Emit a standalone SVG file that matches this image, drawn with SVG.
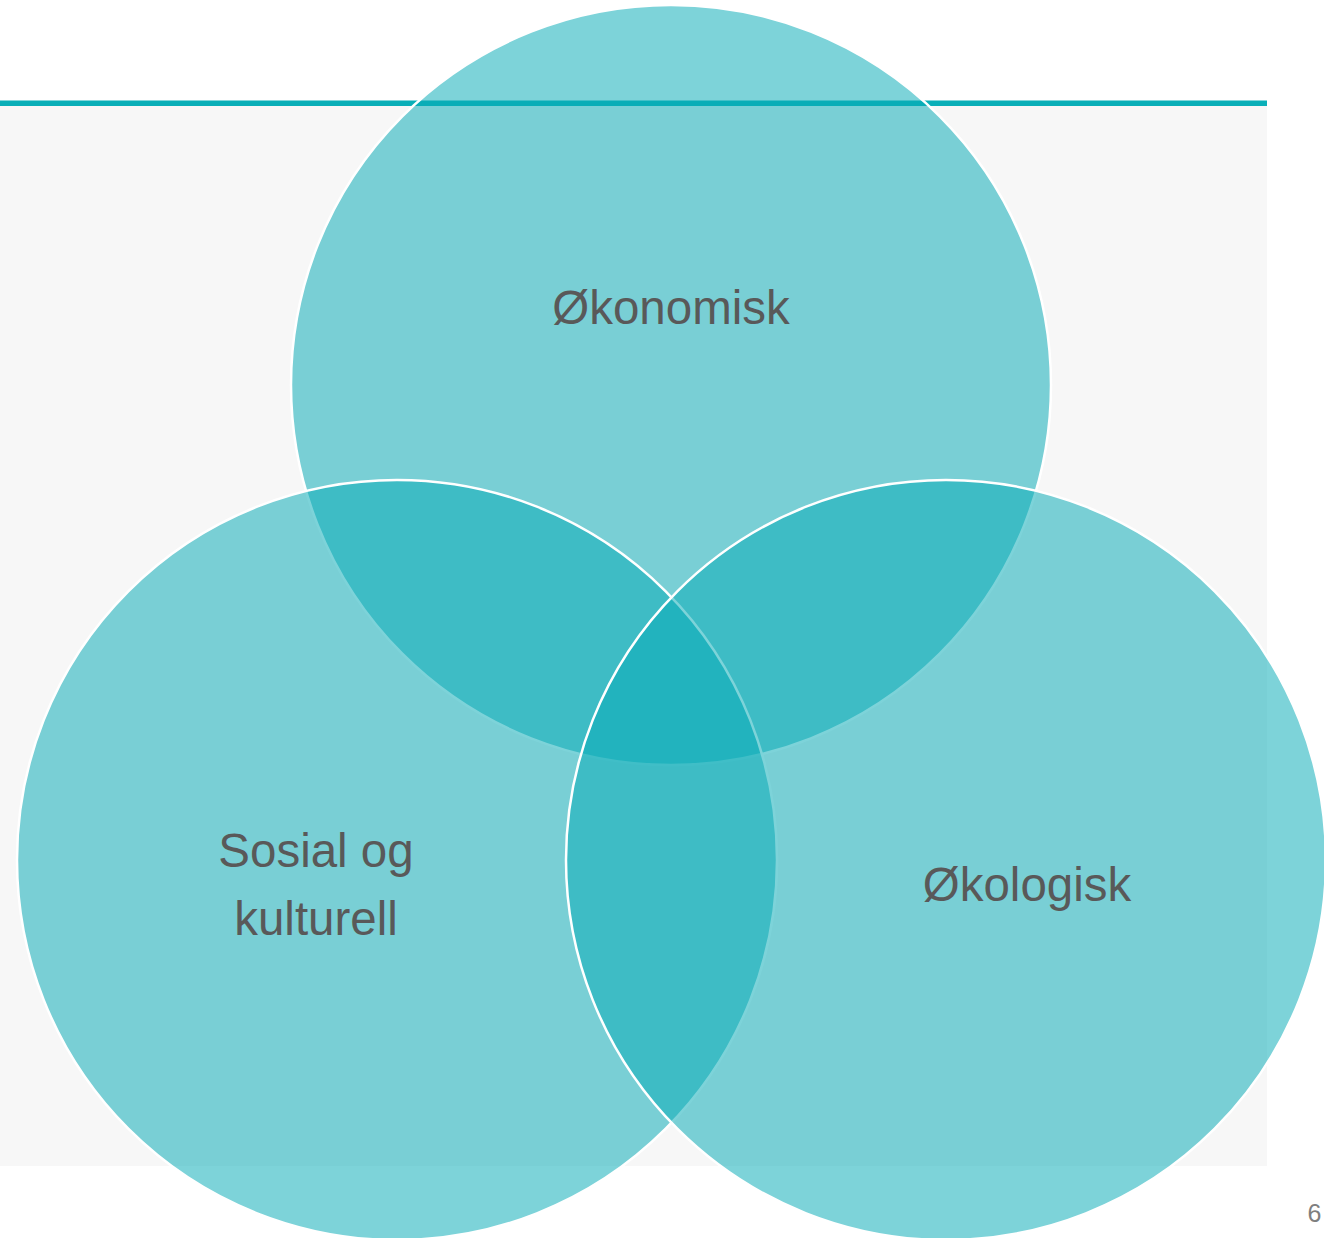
<svg xmlns="http://www.w3.org/2000/svg" width="1324" height="1238" viewBox="0 0 1324 1238">
<style>
.c{fill:rgb(10,172,183);fill-opacity:0.53;stroke:#ffffff;stroke-width:2.5}
.t{font-family:"Liberation Sans",Arial,sans-serif;font-size:47.5px;fill:#595959;text-anchor:middle}
</style>
<rect x="0" y="0" width="1324" height="1238" fill="#ffffff"/>
<rect x="0" y="103" width="1267" height="1063" fill="#f7f7f7"/>
<rect x="0" y="100.5" width="1267" height="5.5" fill="#0aafb8"/>
<g id="connectors"></g>
<g id="okonomisk">
<circle class="c" cx="671" cy="385" r="380"/>
</g>
<g id="sosial">
<circle class="c" cx="397" cy="860" r="380"/>
</g>
<g id="okologisk">
<circle class="c" cx="946" cy="860" r="380"/>
</g>
<g id="labels">
<text class="t" x="671" y="324">Økonomisk</text>
<text class="t" x="316" y="867">Sosial og</text>
<text class="t" x="316" y="935">kulturell</text>
<text class="t" x="1027" y="901">Økologisk</text>
</g>
<text x="1314.5" y="1222" font-family="Liberation Sans, Arial, sans-serif" font-size="25" fill="#7f7f7f" text-anchor="middle">6</text>
</svg>
